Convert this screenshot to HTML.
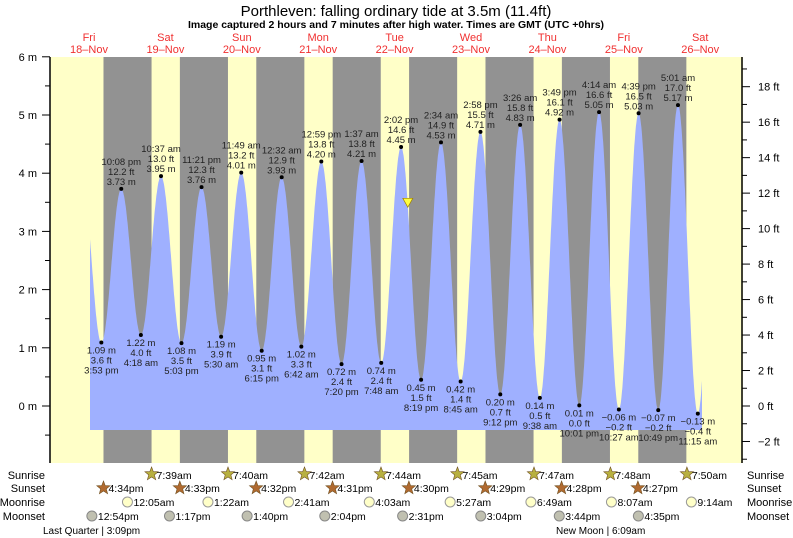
<!DOCTYPE html>
<html><head><meta charset="utf-8"><style>
body{margin:0;background:#fff}
svg{display:block;font-family:"Liberation Sans",sans-serif}
</style></head><body>
<svg id="s" width="793" height="538" xmlns="http://www.w3.org/2000/svg">
<rect width="793" height="538" fill="#fff"/>
<text x="396" y="16" font-size="15" text-anchor="middle" fill="#000">Porthleven: falling  ordinary tide at 3.5m (11.4ft)</text>
<text x="396" y="28" font-size="10.5" font-weight="bold" text-anchor="middle">Image captured 2 hours and 7 minutes after high water. Times are GMT (UTC +0hrs)</text>
</svg>
<script>
const S=document.getElementById('s'),NS='http://www.w3.org/2000/svg';
function el(t,a,txt){const e=document.createElementNS(NS,t);for(const k in a)e.setAttribute(k,a[k]);if(txt!==undefined)e.textContent=txt;S.appendChild(e);return e;}
const X0=50.8,PD=76.4/24;const X=t=>X0+t*PD;const Y=m=>406-m*58.2;
el('rect',{x:50,y:57,width:693,height:406,fill:'#ffffc8'});
for(let d=0;d<8;d++){const a=X(d*24+16.55),b=X(d*24+24+7.65);el('rect',{x:a,y:57,width:b-a,height:406,fill:'#929292'});}
const days=[['Fri','18-Nov'],['Sat','19-Nov'],['Sun','20-Nov'],['Mon','21-Nov'],['Tue','22-Nov'],['Wed','23-Nov'],['Thu','24-Nov'],['Fri','25-Nov'],['Sat','26-Nov']];
days.forEach((d,i)=>{const x=X(i*24+12);el('text',{x:x,y:41,'font-size':11,fill:'#f03030','text-anchor':'middle'},d[0]);el('text',{x:x,y:53,'font-size':11,fill:'#f03030','text-anchor':'middle'},d[1].replace('-','\u2013'));});
const ex=[[15.88,1.09,'3:53 pm','3.6 ft'],[22.13,3.73,'10:08 pm','12.2 ft'],[28.3,1.22,'4:18 am','4.0 ft'],[34.62,3.95,'10:37 am','13.0 ft'],[41.05,1.08,'5:03 pm','3.5 ft'],[47.35,3.76,'11:21 pm','12.3 ft'],[53.5,1.19,'5:30 am','3.9 ft'],[59.82,4.01,'11:49 am','13.2 ft'],[66.25,0.95,'6:15 pm','3.1 ft'],[72.53,3.93,'12:32 am','12.9 ft'],[78.7,1.02,'6:42 am','3.3 ft'],[84.98,4.20,'12:59 pm','13.8 ft'],[91.33,0.72,'7:20 pm','2.4 ft'],[97.62,4.21,'1:37 am','13.8 ft'],[103.8,0.74,'7:48 am','2.4 ft'],[110.03,4.45,'2:02 pm','14.6 ft'],[116.32,0.45,'8:19 pm','1.5 ft'],[122.57,4.53,'2:34 am','14.9 ft'],[128.75,0.42,'8:45 am','1.4 ft'],[134.97,4.71,'2:58 pm','15.5 ft'],[141.2,0.20,'9:12 pm','0.7 ft'],[147.43,4.83,'3:26 am','15.8 ft'],[153.63,0.14,'9:38 am','0.5 ft'],[159.82,4.92,'3:49 pm','16.1 ft'],[166.02,0.01,'10:01 pm','0.0 ft'],[172.23,5.05,'4:14 am','16.6 ft'],[178.45,-0.06,'10:27 am','\u22120.2 ft'],[184.65,5.03,'4:39 pm','16.5 ft'],[190.82,-0.07,'10:49 pm','\u22120.2 ft'],[197.02,5.17,'5:01 am','17.0 ft'],[203.25,-0.13,'11:15 am','\u22120.4 ft']];
const pts=[[9.63,4.0]].concat(ex.map(e=>[e[0],e[1]])).concat([[209.5,5.2]]);
function h(t){for(let i=0;i<pts.length-1;i++){const[a,ha]=pts[i],[b,hb]=pts[i+1];if(t>=a&&t<=b){const f=(t-a)/(b-a);return ha+(hb-ha)*(1-Math.cos(Math.PI*f))/2;}}return 0;}
const t0=(90-X0)/PD,t1=(702-X0)/PD;let d=`M90,430`;for(let t=t0;t<=t1;t+=0.1)d+=`L${X(t).toFixed(1)},${Y(h(t)).toFixed(1)}`;d+=`L${X(t1).toFixed(1)},${Y(h(t1)).toFixed(1)}L702,430Z`;
el('path',{d:d,fill:'#9fb0ff'});
ex.forEach((e,i)=>{const x=X(e[0]),y=Y(e[1]);el('circle',{cx:x,cy:y,r:2,fill:'#000'});const m=(e[1]<0?'\u2212'+(-e[1]).toFixed(2):e[1].toFixed(2))+' m';const a={'font-size':9.5,'text-anchor':'middle',fill:'#222'};
if(i%2){el('text',Object.assign({x:x,y:y-4},a),m);el('text',Object.assign({x:x,y:y-14},a),e[3]);el('text',Object.assign({x:x,y:y-24},a),e[2]);}
else{el('text',Object.assign({x:x,y:y+11},a),m);el('text',Object.assign({x:x,y:y+21},a),e[3]);el('text',Object.assign({x:x,y:y+31},a),e[2]);}});
const cx=X(112.15),cy=Y(3.5);el('path',{d:`M${cx-5},${cy-4}L${cx+5},${cy-4}L${cx},${cy+5}Z`,fill:'#ffff40',stroke:'#a08000','stroke-width':0.7});
el('line',{x1:50,y1:57,x2:50,y2:463,stroke:'#000','stroke-width':1.5});
el('line',{x1:742,y1:57,x2:742,y2:463,stroke:'#000','stroke-width':1.5});
for(let m=-0.5;m<=6;m+=0.5){const y=Y(m);el('line',{x1:m%1?45:42,y1:y,x2:50,y2:y,stroke:'#000'});if(m%1==0)el('text',{x:37,y:y+4,'font-size':11,'text-anchor':'end'},m+' m');}
for(let f=-3;f<=19;f++){const y=Y(f*0.3048);if(y<57||y>463)continue;el('line',{x1:742,y1:y,x2:f%2?747:750,y2:y,stroke:'#000'});if(f%2==0)el('text',{x:758,y:y+4,'font-size':11},(f<0?'\u2212'+(-f):f)+' ft');}
const L=[['Sunrise',475],['Sunset',488],['Moonrise',502],['Moonset',516]];
L.forEach(r=>{el('text',{x:45,y:r[1]+4,'font-size':11,'text-anchor':'end'},r[0]);el('text',{x:747,y:r[1]+4,'font-size':11},r[0]);});
function star(x,y,c){let p='';for(let i=0;i<10;i++){const r=i%2?3:7,a=-Math.PI/2+i*Math.PI/5;p+=(i?'L':'M')+(x+r*Math.cos(a)).toFixed(1)+','+(y+r*Math.sin(a)).toFixed(1);}el('path',{d:p+'Z',fill:c,stroke:'#705020','stroke-width':0.6});}
const sr=['7:39am','7:40am','7:42am','7:44am','7:45am','7:47am','7:48am','7:50am'],srt=[7.65,7.67,7.7,7.73,7.75,7.78,7.8,7.83];
sr.forEach((s,i)=>{const x=X((i+1)*24+srt[i]);star(x,474,'#b8b040');el('text',{x:x+5,y:479,'font-size':10.5},s);});
const ss=['4:34pm','4:33pm','4:32pm','4:31pm','4:30pm','4:29pm','4:28pm','4:27pm'];
ss.forEach((s,i)=>{const x=X(i*24+16.55-i*0.017);star(x,488,'#b06a30');el('text',{x:x+5,y:492,'font-size':10.5},s);});
const mr=[[24.08,'12:05am'],[49.37,'1:22am'],[74.68,'2:41am'],[100.05,'4:03am'],[125.45,'5:27am'],[150.82,'6:49am'],[176.12,'8:07am'],[201.23,'9:14am']];
mr.forEach(m=>{const x=X(m[0]);el('circle',{cx:x,cy:502,r:5,fill:'#ffffc8',stroke:'#999'});el('text',{x:x+6,y:506,'font-size':10.5},m[1]);});
const ms=[[12.9,'12:54pm'],[37.28,'1:17pm'],[61.67,'1:40pm'],[86.07,'2:04pm'],[110.52,'2:31pm'],[135.07,'3:04pm'],[159.73,'3:44pm'],[184.58,'4:35pm']];
ms.forEach(m=>{const x=X(m[0]);el('circle',{cx:x,cy:516,r:5,fill:'#c0c0b0',stroke:'#888'});el('text',{x:x+6,y:520,'font-size':10.5},m[1]);});
el('text',{x:43,y:534,'font-size':10},'Last Quarter | 3:09pm');
el('text',{x:556,y:534,'font-size':10},'New Moon | 6:09am');
</script>
</body></html>
